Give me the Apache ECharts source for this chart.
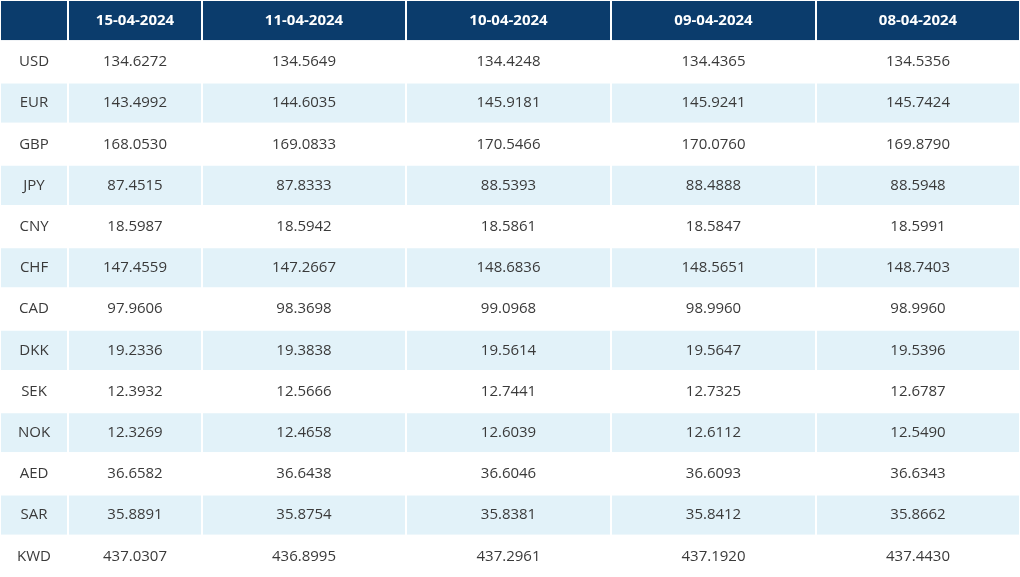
<!DOCTYPE html>
<html>
<head>
<meta charset="utf-8">
<script src="https://cdn.jsdelivr.net/npm/echarts@6/dist/echarts.min.js"></script>
<style>html,body{margin:0;padding:0;background:#fff}#main{width:1020px;height:577px}</style>
</head>
<body>
<div id="main"></div>
<script>
const dates = ['15-04-2024', '11-04-2024', '10-04-2024', '09-04-2024', '08-04-2024'];
const currencies = ['USD', 'EUR', 'GBP', 'JPY', 'CNY', 'CHF', 'CAD', 'DKK', 'SEK', 'NOK', 'AED', 'SAR', 'KWD'];
const rates15 = ['134.6272', '143.4992', '168.0530', '87.4515', '18.5987', '147.4559', '97.9606', '19.2336', '12.3932', '12.3269', '36.6582', '35.8891', '437.0307'];
const rates11 = ['134.5649', '144.6035', '169.0833', '87.8333', '18.5942', '147.2667', '98.3698', '19.3838', '12.5666', '12.4658', '36.6438', '35.8754', '436.8995'];
const rates10 = ['134.4248', '145.9181', '170.5466', '88.5393', '18.5861', '148.6836', '99.0968', '19.5614', '12.7441', '12.6039', '36.6046', '35.8381', '437.2961'];
const rates09 = ['134.4365', '145.9241', '170.0760', '88.4888', '18.5847', '148.5651', '98.9960', '19.5647', '12.7325', '12.6112', '36.6093', '35.8412', '437.1920'];
const rates08 = ['134.5356', '145.7424', '169.8790', '88.5948', '18.5991', '148.7403', '98.9960', '19.5396', '12.6787', '12.5490', '36.6343', '35.8662', '437.4430'];

// layout: column edges in pixels (x axis runs 0..1020)
const colEdges = [0, 68, 202, 406, 611, 816, 1020];
const rowNames = ['header'].concat(currencies);
const columns = [currencies, rates15, rates11, rates10, rates09, rates08];

let cells = [];
rowNames.forEach((r, ri) => {
  for (let c = 0; c < colEdges.length - 1; c++) {
    let text = ri === 0 ? (c === 0 ? '' : dates[c - 1]) : columns[c][ri - 1];
    cells.push({ value: [c, ri], text: text });
  }
});

const chart = echarts.init(document.getElementById('main'));
chart.setOption({
  animation: false,
  grid: { left: 0, right: 0, top: 0, bottom: 0 },
  xAxis: { type: 'value', min: 0, max: 1020, show: false },
  yAxis: { type: 'category', data: rowNames, inverse: true, show: false },
  series: [{
    type: 'custom',
    data: cells,
    renderItem: function (params, api) {
      const c = api.value(0), r = api.value(1);
      const p0 = api.coord([colEdges[c], r]);
      const p1 = api.coord([colEdges[c + 1], r]);
      const h = api.size([0, 1])[1];
      const header = r === 0;
      const fill = header ? '#0b3c6c' : (r % 2 === 0 ? '#e2f2f9' : '#ffffff');
      return {
        type: 'group',
        children: [{
          type: 'rect',
          shape: { x: p0[0], y: p0[1] - h / 2, width: p1[0] - p0[0], height: h },
          style: { fill: fill, stroke: '#ffffff', lineWidth: 2 }
        }, {
          type: 'text',
          style: {
            text: cells[params.dataIndex].text,
            x: (p0[0] + p1[0]) / 2, y: p0[1],
            align: 'center', verticalAlign: 'middle',
            fill: header ? '#ffffff' : '#3a3a3a',
            font: (header ? 'bold ' : '') + '15px "Open Sans", "Noto Sans", sans-serif'
          }
        }]
      };
    }
  }]
});
</script>
</body>
</html>
